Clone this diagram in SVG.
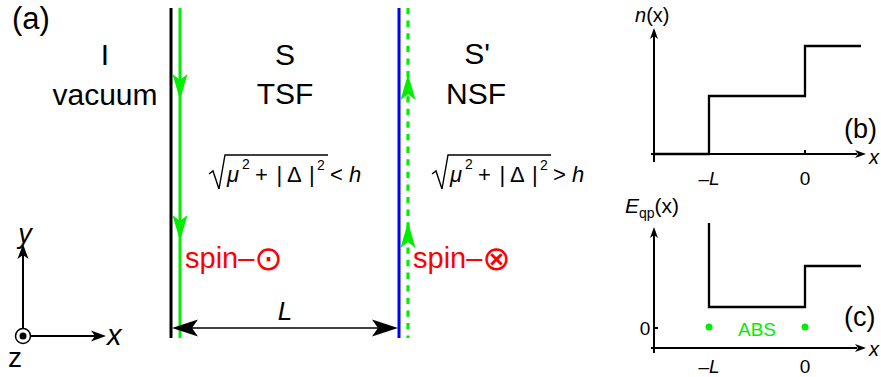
<svg xmlns="http://www.w3.org/2000/svg" xmlns:xlink="http://www.w3.org/1999/xlink" width="881" height="377" viewBox="0 0 881 377">
<style>
text{font-family:"Liberation Sans","DejaVu Sans",Arial,sans-serif;fill:#000}
.big{font-size:30px}
.mid{font-size:22px}
.sup{font-size:14px}
.it{font-style:italic}
.red{fill:#ff0000}
.grn{fill:#00ee00}
.ax{stroke:#000;stroke-width:2;fill:none}
.step{stroke:#000;stroke-width:2.3;fill:none}
.wall{stroke-width:3;fill:none}
.rad{stroke:#000;stroke-width:1.4;fill:none}
</style>
<defs>
<path id="gdown" d="M0,0 L-7.5,-26 L0,-20 L7.5,-26 Z" fill="#00ee00"/>
<path id="gup" d="M0,0 L-7.5,26 L0,20 L7.5,26 Z" fill="#00ee00"/>
<path id="ahR" d="M0,0 L-15,-5.5 L-11,0 L-15,5.5 Z" fill="#000"/>
<path id="ahU" d="M0,0 L-5.5,15 L0,11 L5.5,15 Z" fill="#000"/>
<path id="shR" d="M0,0 L-11,-4 L-8,0 L-11,4 Z" fill="#000"/>
<path id="shU" d="M0,0 L-4,11 L0,8 L4,11 Z" fill="#000"/>
<path id="LhR" d="M0,0 L-26,-8.5 L-20,0 L-26,8.5 Z" fill="#000"/>
<path id="LhL" d="M0,0 L26,-8.5 L20,0 L26,8.5 Z" fill="#000"/>
</defs>

<text id="label-a" x="12" y="29" font-size="31">(a)</text>

<g id="region-I">
<text class="big" x="105" y="65" text-anchor="middle">I</text>
<text class="big" x="105" y="105" text-anchor="middle">vacuum</text>
</g>
<g id="region-S">
<text class="big" x="285" y="65" text-anchor="middle">S</text>
<text class="big" x="285" y="104" text-anchor="middle">TSF</text>
<g id="formula-S">
<path class="rad" d="M209,174 L213,171 L219,189 L225,155 L328,155"/>
<text class="mid it" x="227" y="182">μ</text>
<text class="sup" x="242" y="169">2</text>
<text class="mid" x="255" y="182">+</text>
<text class="mid" x="276.5" y="182">|</text>
<text class="mid" x="287" y="182">Δ</text>
<text class="mid" x="309" y="182">|</text>
<text class="sup" x="317" y="170">2</text>
<text class="mid" x="330" y="182">&lt;</text>
<text class="mid it" x="349" y="182">h</text>
</g>
</g>
<g id="region-Sp">
<text class="big" x="477" y="64" text-anchor="middle">S'</text>
<text class="big" x="476" y="104" text-anchor="middle">NSF</text>
<g id="formula-Sp">
<path class="rad" d="M432,174 L436,171 L442,189 L448,155 L551,155"/>
<text class="mid it" x="450" y="182">μ</text>
<text class="sup" x="465" y="169">2</text>
<text class="mid" x="478" y="182">+</text>
<text class="mid" x="499.5" y="182">|</text>
<text class="mid" x="510" y="182">Δ</text>
<text class="mid" x="532" y="182">|</text>
<text class="sup" x="540" y="170">2</text>
<text class="mid" x="553" y="182">&gt;</text>
<text class="mid it" x="572" y="182">h</text>
</g>
</g>

<g id="connectors">
<line id="wall-I-S" class="wall" x1="171" y1="8" x2="171" y2="338" stroke="#000"/>
<line id="edge-left" class="wall" x1="180" y1="8" x2="180" y2="338" stroke="#00ee00"/>
<use href="#gdown" x="180" y="100"/>
<use href="#gdown" x="180" y="241"/>
<line id="wall-S-Sp" class="wall" x1="399" y1="8" x2="399" y2="338" stroke="#0000ff"/>
<line id="edge-right" x1="408" y1="8" x2="408" y2="338" stroke="#00ee00" stroke-width="3.2" stroke-dasharray="6.3 6.3"/>
<use href="#gup" x="408" y="74"/>
<use href="#gup" x="408" y="222"/>
<line id="dim-L" x1="180" y1="328" x2="392" y2="328" stroke="#000" stroke-width="1.5"/>
<use href="#LhL" x="172" y="328"/>
<use href="#LhR" x="398" y="328"/>
</g>
<text id="label-L" class="it" x="285" y="320" font-size="26" text-anchor="middle">L</text>

<g id="spin-up">
<text class="red" x="185" y="268" font-size="29">spin–<tspan font-size="34" dy="2">⊙</tspan></text>
</g>
<g id="spin-down">
<text class="red" x="413" y="268" font-size="29">spin–<tspan font-size="34" dy="2">⊗</tspan></text>
</g>

<g id="axes-xyz">
<line class="ax" x1="23" y1="328" x2="23" y2="250" stroke-width="1.6"/>
<use href="#ahU" x="23" y="244"/>
<line class="ax" x1="31" y1="336" x2="100" y2="336" stroke-width="1.6"/>
<use href="#ahR" x="106" y="336"/>
<circle cx="23" cy="336" r="7.5" fill="none" stroke="#000" stroke-width="1.5"/>
<circle cx="23" cy="336" r="3.5" fill="#000"/>
<text class="it" x="25" y="243" font-size="27" text-anchor="middle">y</text>
<text class="it" x="107" y="345" font-size="29">x</text>
<text x="8" y="367" font-size="28">z</text>
</g>

<g id="plot-b">
<line class="ax" x1="654" y1="162" x2="654" y2="36"/>
<use href="#shU" x="654" y="28"/>
<line class="ax" x1="651" y1="154" x2="857" y2="154"/>
<use href="#shR" x="866" y="154"/>
<line class="ax" x1="805" y1="150" x2="805" y2="154" stroke-width="1.2"/>
<polyline class="step" points="654,154 709,154 709,96 805,96 805,46 861,46"/>
<text x="635" y="22" font-size="20"><tspan class="it">n</tspan>(x)</text>
<text class="it" x="869" y="164" font-size="20">x</text>
<text x="844" y="138" font-size="27">(b)</text>
<text x="709" y="185" font-size="19" text-anchor="middle">–<tspan class="it">L</tspan></text>
<text x="805" y="185" font-size="19" text-anchor="middle">0</text>
</g>

<g id="plot-c">
<line class="ax" x1="654" y1="353" x2="654" y2="235"/>
<use href="#shU" x="654" y="227"/>
<line class="ax" x1="651" y1="348" x2="857" y2="348"/>
<use href="#shR" x="866" y="348"/>
<line class="ax" x1="654" y1="328" x2="658" y2="328" stroke-width="1.2"/>
<polyline class="step" points="709,223 709,307 805,307 805,266 861,266"/>
<text x="625" y="213" font-size="21"><tspan class="it">E</tspan><tspan font-size="14" dy="5">qp</tspan><tspan dy="-5">(x)</tspan></text>
<text x="645" y="335" font-size="19" text-anchor="middle">0</text>
<circle cx="709" cy="327" r="3.5" fill="#00ee00"/>
<circle cx="805" cy="327" r="3.5" fill="#00ee00"/>
<text class="grn" x="757" y="336" font-size="19" text-anchor="middle">ABS</text>
<text class="it" x="869" y="356" font-size="20">x</text>
<text x="844" y="326" font-size="27">(c)</text>
<text x="709" y="373" font-size="19" text-anchor="middle">–<tspan class="it">L</tspan></text>
<text x="805" y="373" font-size="19" text-anchor="middle">0</text>
</g>
</svg>
